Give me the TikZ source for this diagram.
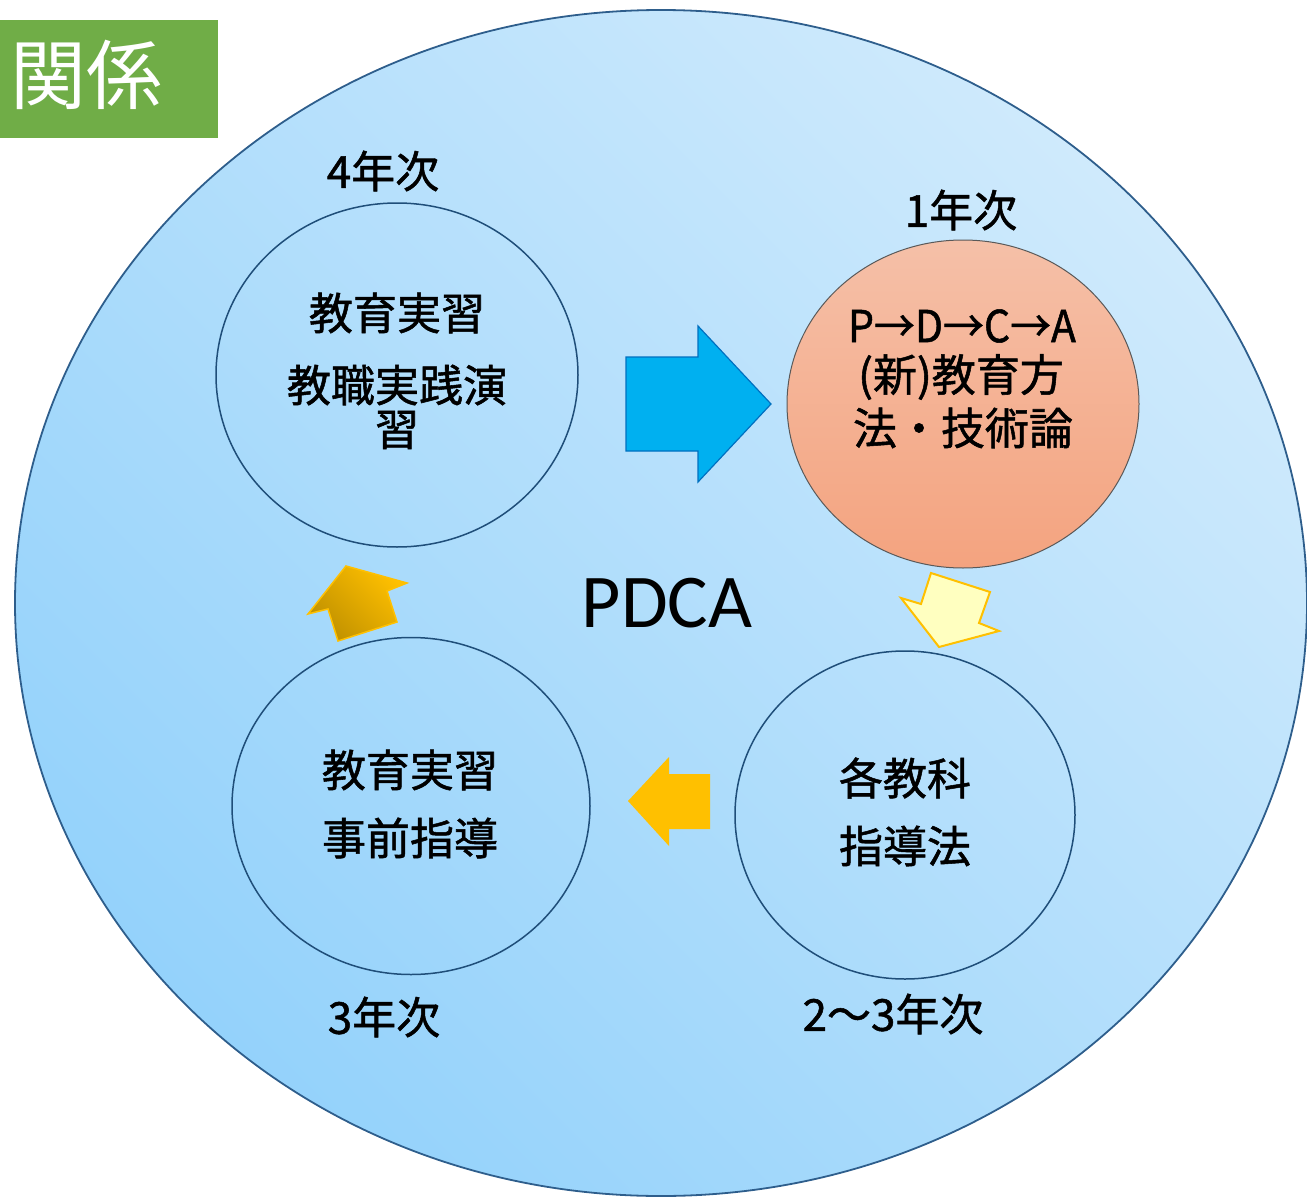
\documentclass[tikz,border=0pt]{standalone}
\usepackage{fontspec}
\setmainfont{Noto Sans CJK JP}
\newfontfamily\boldish[FakeBold=1.2]{Noto Sans CJK JP}
\newfontfamily\latinfont{Carlito}
\usetikzlibrary{shapes.geometric}
\definecolor{bgTop}{HTML}{CFEAFC}
\definecolor{bgBot}{HTML}{94D2FB}
\definecolor{rimBlue}{HTML}{2E5E8C}
\definecolor{ringBlue}{HTML}{1F4E79}
\definecolor{salmonTop}{HTML}{F5C0A8}
\definecolor{salmonBot}{HTML}{F4A37F}
\definecolor{arrowBlue}{HTML}{00B0F0}
\definecolor{arrowBlueEdge}{HTML}{0070C0}
\definecolor{gold}{HTML}{FFC000}
\definecolor{goldDark}{HTML}{BF9000}
\definecolor{paleYellow}{HTML}{FFFFC0}
\definecolor{titleGreen}{HTML}{70AD47}
\tikzset{
  ring/.style={ellipse, draw=ringBlue, line width=1.5pt, inner sep=0pt},
  yearlbl/.style={font=\boldish\fontsize{44}{48}\selectfont, inner sep=0pt},
  bodytxt/.style={font=\boldish\fontsize{44}{48}\selectfont, inner sep=0pt, align=center},
}
\begin{document}
\begin{tikzpicture}[x=1pt,y=-1pt]
\useasboundingbox (0,0) rectangle (1307,1199);
% world ellipse
\node[ellipse, draw=rimBlue, line width=1.8pt, shade, top color=bgTop, bottom color=bgBot, shading angle=-45,
      minimum width=1292pt, minimum height=1186pt, inner sep=0pt] (world) at (661,603) {};
% title
\fill[titleGreen] (0,20) rectangle (218,138);
\node[text=white, font=\fontsize{76}{80}\selectfont, inner sep=0pt] (title) at (86,75) {関係};
% rings
\node[ring, minimum width=362pt, minimum height=344pt] (tl) at (397,375) {};
\node[ellipse, draw=gray!70!black, line width=1pt, shade, top color=salmonTop, bottom color=salmonBot,
      minimum width=352pt, minimum height=328pt, inner sep=0pt] (tr) at (963,404) {};
\node[ring, minimum width=358pt, minimum height=337pt] (bl) at (411,806) {};
\node[ring, minimum width=340pt, minimum height=328pt] (br) at (905,815) {};
% year labels
\node[yearlbl] (y4) at (383,171) {4年次};
\node[yearlbl] (y1) at (961,210) {1年次};
\node[yearlbl] (y3) at (384,1017) {3年次};
\node[yearlbl] (y23) at (893,1014) {2〜3年次};
% ring texts
\node[bodytxt] (tl1) at (397,313) {教育実習};
\node[bodytxt] (tl2) at (397,385) {教職実践演};
\node[bodytxt] (tl3) at (397,430) {習};
\node[bodytxt, xscale=0.93] (tr1) at (962,326) {P→D→C→A};
\node[bodytxt] (tr2) at (961,377) {(新)教育方};
\node[bodytxt] (tr3) at (963,428) {法・技術論};
\node[bodytxt] (bl1) at (410,770) {教育実習};
\node[bodytxt] (bl2) at (410,838) {事前指導};
\node[bodytxt] (br1) at (905,778) {各教科};
\node[bodytxt] (br2) at (905,846) {指導法};
% center
\node[font=\latinfont\fontsize{76}{80}\selectfont, inner sep=0pt] (pdca) at (667,603) {PDCA};
% block arrows
\draw[fill=arrowBlue, draw=arrowBlueEdge, line width=1.2pt, line join=miter]
  (626,357) -- (698,357) -- (698,326) -- (771,404) -- (698,482) -- (698,451) -- (626,451) -- cycle;
\draw[fill=paleYellow, draw=gold, line width=2pt, line join=miter]
  (931,573) -- (990,592) -- (979,623) -- (999,631) -- (939,647) -- (901,598) -- (921,604) -- cycle;
\draw[shade, top color=gold, bottom color=goldDark, shading angle=-45, draw=gold, line width=1.5pt, line join=miter]
  (346,566) -- (407,583) -- (387,591) -- (397,622) -- (338,641) -- (328,609) -- (308,614) -- cycle;
\fill[gold]
  (628,801) -- (669,757) -- (669,774) -- (710,774) -- (710,829) -- (669,829) -- (669,846) -- cycle;
\end{tikzpicture}
\end{document}
